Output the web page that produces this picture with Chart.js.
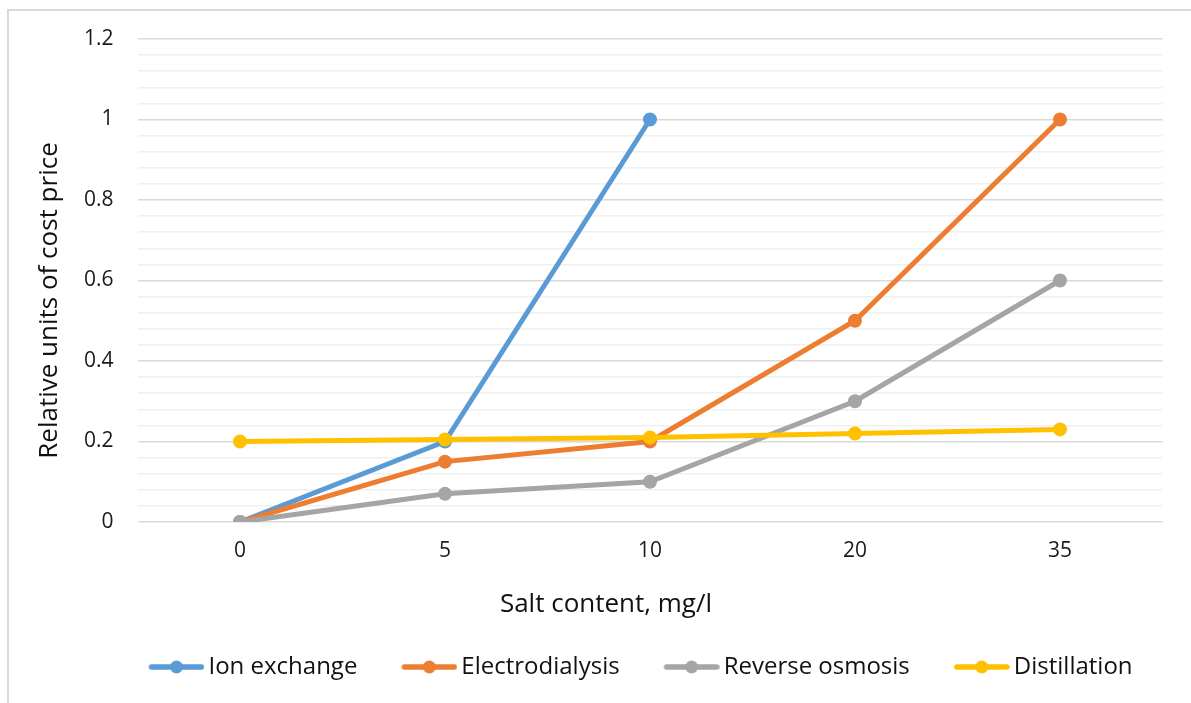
<!DOCTYPE html>
<html>
<head>
<meta charset="utf-8">
<script src="https://cdn.jsdelivr.net/npm/chart.js@4"></script>
<style>
  html, body { margin: 0; padding: 0; background: #fff; overflow: hidden; }
  #wrap { position: relative; width: 1191px; height: 703px; }
  #frame { position: absolute; left: 7px; top: 9px; width: 1300px; height: 800px; border: 2px solid #dadada; }
  #chart { position: absolute; left: 0; top: 0; }
</style>
</head>
<body>
<div id="wrap">
  <div id="frame"></div>
  <canvas id="chart" width="1191" height="703"></canvas>
</div>
<script>
// Salt content categories and relative cost price per method
const saltContent     = ['0', '5', '10', '20', '35'];
const ionExchange     = [0, 0.2, 1, null, null];
const electrodialysis = [0, 0.15, 0.2, 0.5, 1];
const reverseOsmosis  = [0, 0.07, 0.1, 0.3, 0.6];
const distillation    = [0.2, 0.205, 0.21, 0.22, 0.23];

const seriesNames  = ['Ion exchange', 'Electrodialysis', 'Reverse osmosis', 'Distillation'];
const seriesColors = ['#5B9BD5', '#ED7D31', '#A5A5A5', '#FFC000'];
const seriesData   = [ionExchange, electrodialysis, reverseOsmosis, distillation];

const xTitle = 'Salt content, mg/l';
const yTitle = 'Relative units of cost price';

Chart.defaults.font.family = "'Open Sans', sans-serif";
Chart.defaults.color = '#1a1a1a';

// Legend icon: short line with a dot (Excel style). The canvas is wider than
// the mark so the blank left part works as spacing between legend items.
function makeIcon(color) {
  const c = document.createElement('canvas');
  c.width = 108; c.height = 16;
  const ctx = c.getContext('2d');
  ctx.strokeStyle = color;
  ctx.lineWidth = 5.5;
  ctx.lineCap = 'round';
  ctx.beginPath();
  ctx.moveTo(55, 8);
  ctx.lineTo(105, 8);
  ctx.stroke();
  ctx.fillStyle = color;
  ctx.beginPath();
  ctx.arc(80, 8, 6.5, 0, Math.PI * 2);
  ctx.fill();
  return c;
}
const icons = seriesColors.map(makeIcon);

// Axis titles are placed a bit off-centre, as in the original sheet
const axisTitles = {
  id: 'axisTitles',
  afterDraw(chart) {
    const { ctx, chartArea } = chart;
    ctx.save();
    ctx.fillStyle = '#111';
    ctx.font = "26px 'Open Sans', sans-serif";
    ctx.textAlign = 'center';
    ctx.textBaseline = 'middle';
    ctx.fillText(xTitle, (chartArea.left + chartArea.right) / 2 - 44, 605);
    ctx.translate(50, (chartArea.top + chartArea.bottom) / 2 + 20);
    ctx.rotate(-Math.PI / 2);
    ctx.fillText(yTitle, 0, 0);
    ctx.restore();
  }
};

const isMajor = (v) => Math.abs(v * 5 - Math.round(v * 5)) < 1e-6;

new Chart(document.getElementById('chart'), {
  type: 'line',
  data: {
    labels: saltContent,
    datasets: seriesData.map((data, i) => ({
      label: seriesNames[i],
      data,
      order: 4 - i,
      borderColor: seriesColors[i],
      backgroundColor: seriesColors[i],
      borderWidth: 5,
      pointRadius: 6,
      pointBorderWidth: 2,
      pointBorderColor: seriesColors[i],
      pointBackgroundColor: seriesColors[i],
      tension: 0,
      spanGaps: false,
    })),
  },
  options: {
    responsive: false,
    animation: false,
    layout: { padding: { left: 74.5, right: 28.5, top: 39, bottom: 14 } },
    plugins: {
      tooltip: { enabled: false },
      legend: {
        position: 'bottom',
        labels: {
          usePointStyle: true,
          pointStyleWidth: 92,
          padding: 0,
          color: '#111',
          font: { size: 24 },
          sort: (a, b) => a.datasetIndex - b.datasetIndex,
          generateLabels: (chart) => {
            const items = Chart.defaults.plugins.legend.labels.generateLabels(chart);
            items.forEach(it => { it.pointStyle = icons[it.datasetIndex]; });
            return items;
          },
        },
      },
    },
    scales: {
      x: {
        offset: true,
        grid: { display: false },
        border: { display: false },
        ticks: { font: { size: 21 }, padding: 8, color: '#1a1a1a' },
        afterFit: (scale) => { scale.height = 133; },
      },
      y: {
        min: 0,
        max: 1.2,
        border: { display: false },
        grid: {
          drawTicks: false,
          color: (ctx) => isMajor(ctx.tick.value) ? '#d9d9d9' : '#f0f0f0',
          lineWidth: 1.5,
        },
        ticks: {
          stepSize: 0.04,
          autoSkip: false,
          padding: 24,
          font: { size: 21 },
          color: '#1a1a1a',
          callback: (v) => isMajor(v) ? String(Number(v.toFixed(2))) : '',
        },
        afterFit: (scale) => { scale.width = 63; },
      },
    },
  },
  plugins: [axisTitles],
});
</script>
</body>
</html>
